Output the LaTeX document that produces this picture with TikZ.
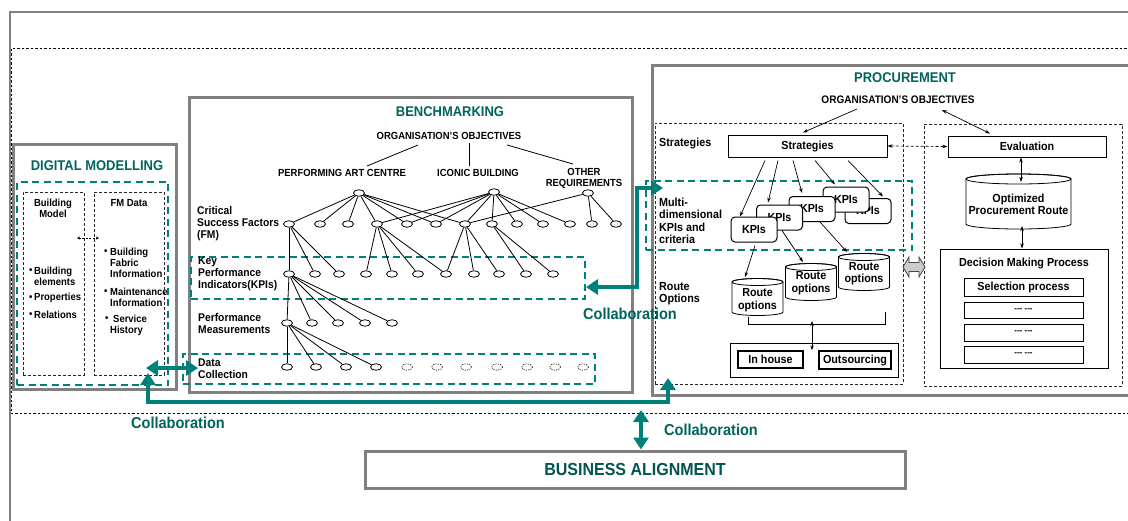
\documentclass[tikz,border=0pt]{standalone}
\usepackage{fontspec}
\setmainfont{Liberation Sans}[FakeStretch=0.92]
\usetikzlibrary{shapes.geometric,arrows.meta,calc}
\definecolor{tealA}{RGB}{0,128,122}
\definecolor{tealT}{RGB}{0,100,94}
\definecolor{frameG}{RGB}{128,128,128}
\newcommand\mycyl[5]{%
  \filldraw[fill=white,line width=0.8pt] (#1-#4,#2) -- (#1-#4,#3) arc[start angle=180,end angle=0,x radius=#4,y radius=#5] -- (#1+#4,#2) arc[start angle=0,end angle=-180,x radius=#4,y radius=#5] -- cycle;
  \draw[line width=0.8pt] (#1,#2) ellipse [x radius=#4,y radius=#5];}
\tikzset{
 frame/.style={draw=frameG, line width=3pt, inner sep=0pt},
 tbox/.style={draw=tealA, line width=2.2pt, dash pattern=on 7pt off 4.5pt, inner sep=0pt},
 bbox/.style={draw=black!85, line width=0.8pt, dash pattern=on 3pt off 2pt, inner sep=0pt},
 ell/.style={ellipse, draw, line width=0.8pt, minimum width=11pt, minimum height=6.5pt, inner sep=0pt},
 dell/.style={ellipse, draw, line width=0.6pt, dash pattern=on 1.2pt off 1.2pt, minimum width=11pt, minimum height=6.5pt, inner sep=0pt},
 tl/.style={line width=0.8pt},
 f95/.style={font=\bfseries\fontsize{10.3}{11}\selectfont},
 f103/.style={font=\bfseries\fontsize{11.2}{12}\selectfont},
 f108/.style={font=\bfseries\fontsize{11.7}{12.4}\selectfont},
 ttl/.style={font=\bfseries\fontsize{14.1}{15}\selectfont, text=tealT, inner sep=0pt},
 colt/.style={font=\bfseries\fontsize{15.8}{17}\selectfont, text=tealT, inner sep=0pt},
 collab/.style={draw=tealA, line width=4.5pt, arrows={Triangle[length=12pt,width=15pt]-Triangle[length=12pt,width=15pt]}},
 tarr/.style={line width=0.7pt, arrows={-Stealth[length=5pt,width=3.5pt]}},
 tarrb/.style={line width=0.7pt, arrows={Stealth[length=5pt,width=3.5pt]-Stealth[length=5pt,width=3.5pt]}},
 rbox/.style={draw, line width=1pt, inner sep=0pt},
 kpi/.style={draw, fill=white, rounded corners=4pt, line width=1pt, minimum width=46pt, minimum height=25pt, f108, inner sep=0pt},
 lab/.style={inner sep=0pt, align=left, anchor=west},
}
\begin{document}
\begin{tikzpicture}[x=1pt,y=-1pt]
\useasboundingbox (0,0) rectangle (1128,520);
\clip (0,0) rectangle (1128,520);
\fill[white] (0,0) rectangle (1128,520);
% outer frame and dashed region
\draw[draw=frameG, line width=2.5pt] (1140,12) -- (10,12) -- (10,530);
\draw[line width=0.8pt, dash pattern=on 2.5pt off 2pt] (1140,48) -- (11,48) -- (11,413) -- (1140,413);

% ================= DIGITAL MODELLING =================
\node[frame, minimum width=163pt, minimum height=245pt, anchor=north west] (dm) at (12,143) {};
\node[ttl] (dmt) at (97,166) {DIGITAL MODELLING};
\node[tbox, minimum width=151pt, minimum height=203pt, anchor=north west] (dmtb) at (16,181) {};
\node[bbox, minimum width=61pt, minimum height=183pt, anchor=north west] (bmod) at (23,192) {};
\node[bbox, minimum width=70pt, minimum height=183pt, anchor=north west] (fmd) at (94,192) {};
\node[f95, align=center, inner sep=0pt] (bmt) at (53,208) {Building\\Model};
\node[f95, inner sep=0pt] (fmt) at (129,203) {FM Data};
\coordinate (dmA) at (77,238); \coordinate (dmB) at (99,238);
\draw[line width=0.6pt, dash pattern=on 2pt off 1.5pt, arrows={Stealth[length=3pt,width=3pt]-Stealth[length=3pt,width=3pt]}] (dmA) -- (dmB);
\node[f95, lab] (bu1) at (29,271) {•};
\node[f95, lab] (be) at (34,276) {Building\\elements};
\node[f95, lab] (bu2) at (29,298) {•};
\node[f95, lab] (bp) at (34,298) {Properties};
\node[f95, lab] (bu3) at (29,315) {•};
\node[f95, lab] (br) at (34,315) {Relations};
\node[f95, lab] (bu4) at (104,252) {•};
\node[f95, lab] (fb) at (110,263) {Building\\Fabric\\Information};
\node[f95, lab] (bu5) at (104,292) {•};
\node[f95, lab] (fm) at (110,297.5) {Maintenance\\Information};
\node[f95, lab] (bu6) at (105,319) {•};
\node[f95, lab] (fs) at (110,325) {\hspace{3pt}Service\\History};

% ================= BENCHMARKING =================
\node[frame, minimum width=443pt, minimum height=295pt, anchor=north west] (bm) at (188,96) {};
\node[ttl] (bmtt) at (450,112) {BENCHMARKING};
\node[f95, inner sep=0pt] (bo) at (449,136) {ORGANISATION'S OBJECTIVES};
\node[f95, inner sep=0pt] (pac) at (342,173) {PERFORMING ART CENTRE};
\node[f95, inner sep=0pt] (ico) at (478,173) {ICONIC BUILDING};
\node[f95, inner sep=0pt, align=center] (oth) at (584,178) {OTHER\\REQUIREMENTS};
\coordinate (bo1) at (418,145); \coordinate (pa1) at (367,166);
\coordinate (bo2) at (469,143); \coordinate (ic1) at (469,166);
\coordinate (bo3) at (507,145); \coordinate (ot1) at (573,164);
\draw[tl] (bo1) -- (pa1); \draw[tl] (bo2) -- (ic1); \draw[tl] (bo3) -- (ot1);
\node[tbox, minimum width=394pt, minimum height=42pt, anchor=north west] (kpitb) at (190,256) {};
\node[tbox, minimum width=412pt, minimum height=30pt, anchor=north west] (dctb) at (182,353) {};
\node[f103, lab] (csfl) at (197,224) {Critical\\Success Factors\\(FM)};
\node[f103, lab] (kpil) at (198,274) {Key\\Performance\\Indicators(KPIs)};
\node[f103, lab] (pml) at (198,323) {Performance\\Measurements};
\node[f103, lab] (dcl) at (198,369) {Data\\Collection};
\node[ell] (pE) at (359,193) {};
\node[ell] (iE) at (494,192) {};
\node[ell] (oE) at (588,193) {};
\foreach \x [count=\i] in {289,320,348,377,407,436,465,492,517,543,570,592,616} \node[ell] (c\i) at (\x,224) {};
\foreach \x [count=\i] in {289,315,339,366,392,418,446,474,499,526,553} \node[ell] (k\i) at (\x,274) {};
\foreach \x [count=\i] in {287,312,338,365,392} \node[ell] (p\i) at (\x,323) {};
\foreach \x [count=\i] in {287,316,346,376} \node[ell] (d\i) at (\x,367) {};
\foreach \x [count=\i] in {407,437,466,497,527,555,583} \node[dell] (e\i) at (\x,367) {};
\foreach \j in {1,...,7} \draw[tl] (pE) -- (c\j);
\foreach \j in {4,...,11} \draw[tl] (iE) -- (c\j);
\foreach \j in {7,12,13} \draw[tl] (oE) -- (c\j);
\foreach \j in {1,2,3} \draw[tl] (c1) -- (k\j);
\foreach \j in {4,5,6,7} \draw[tl] (c4) -- (k\j);
\foreach \j in {7,8,9} \draw[tl] (c7) -- (k\j);
\foreach \j in {10,11} \draw[tl] (c8) -- (k\j);
\foreach \j in {1,...,5} \draw[tl] (k1) -- (p\j);
\foreach \j in {1,...,4} \draw[tl] (p1) -- (d\j);

% ================= PROCUREMENT =================
\node[frame, minimum width=489pt, minimum height=330pt, anchor=north west] (pr) at (651,64) {};
\node[ttl] (prt) at (905,78) {PROCUREMENT};
\node[font=\bfseries\fontsize{10.9}{12}\selectfont, inner sep=0pt] (po) at (898,100) {ORGANISATION'S OBJECTIVES};
\node[bbox, minimum width=248pt, minimum height=261pt, anchor=north west] (sdash) at (655,123) {};
\node[bbox, minimum width=198pt, minimum height=262pt, anchor=north west] (edash) at (924,124) {};
\node[tbox, minimum width=266pt, minimum height=69pt, anchor=north west] (mdt) at (645,180) {};
\node[rbox, f108, minimum width=159pt, minimum height=22pt] (strat) at (807.5,146) {Strategies};
\node[f108, lab] (stl) at (659,143) {Strategies};
\node[f108, lab] (mdl) at (659,221) {Multi-\\dimensional\\KPIs and\\criteria};
\node[f108, lab] (rol) at (659,293.5) {Route\\Options};
\node[kpi] (kE) at (868,211) {KPIs};
\node[kpi] (kD) at (846,199.5) {KPIs};
\node[kpi] (kC) at (812,209) {KPIs};
\node[kpi] (kB) at (779.5,217.5) {KPIs};
\node[kpi] (kA) at (754,229.5) {KPIs};
\draw[tarr] ([xshift=-42.5pt,yshift=-3pt]strat.south) -- ([xshift=-14pt]kA.north);
\draw[tarr] ([xshift=-29.5pt,yshift=-3pt]strat.south) -- ([xshift=-11.5pt,yshift=2pt]kB.north);
\draw[tarr] ([xshift=-14.5pt,yshift=-3pt]strat.south) -- ([xshift=-10pt,yshift=3pt]kC.north);
\draw[tarr] ([xshift=7.5pt,yshift=-3pt]strat.south) -- ([xshift=-11pt,yshift=2pt]kD.north);
\draw[tarr] ([xshift=40.5pt,yshift=-3pt]strat.south) -- ([xshift=15pt,yshift=1.5pt]kE.north);
% route option cylinders
\mycyl{757.5}{282}{312}{25.5}{3.5}
\mycyl{811}{267}{297}{25.5}{3.5}
\mycyl{864}{257}{287}{25.5}{3.5}
\node[f108, align=center, inner sep=0pt] (cy1) at (757.5,300) {Route\\options};
\node[f108, align=center, inner sep=0pt] (cy2) at (811,283) {Route\\options};
\node[f108, align=center, inner sep=0pt] (cy3) at (864,273.5) {Route\\options};
\draw[tarr] ([xshift=1pt,yshift=-3pt]kA.south) -- ($(cy1)+(-12.5,-23)$);
\draw[tarr] ([xshift=2.5pt]kB.south) -- ($(cy2)+(-8,-21)$);
\draw[tarr] ([xshift=8pt]kC.south) -- ($(cy3)+(-17,-21.5)$);
\draw[line width=0.8pt] (748,317) -- (748,324) -- (885,324) -- (885,312);
\node[draw, line width=1pt, minimum width=168pt, minimum height=34pt, inner sep=0pt] (ioc) at (814,360) {};
\node[rbox, line width=1.3pt, f108, minimum width=65pt, minimum height=17pt] (inh) at (770.5,359.5) {In house};
\node[rbox, line width=1.3pt, f108, minimum width=72pt, minimum height=18pt] (outs) at (855,360) {Outsourcing};
\coordinate (brk) at (812,321);
\draw[tarrb] (brk) -- (brk |- inh.north);
% right column
\node[rbox, f108, minimum width=158pt, minimum height=21pt] (evl) at (1027,146.5) {Evaluation};
\mycyl{1018.5}{179}{224}{52.5}{5}
\node[f108, align=center, inner sep=0pt] (opr) at (1018.5,204.5) {Optimized\\Procurement Route};
\node[rbox, minimum width=168pt, minimum height=119pt] (dmp) at (1024,308.5) {};
\node[f108, inner sep=0pt] (dmpt) at (1024,263) {Decision Making Process};
\node[rbox, f108, minimum width=119pt, minimum height=18pt] (sel) at (1023.5,287) {Selection process};
\node[rbox, font=\bfseries\fontsize{8.7}{9}\selectfont, minimum width=119pt, minimum height=16pt] (s1) at (1023.5,310) {-{}-{}- -{}-{}-};
\node[rbox, font=\bfseries\fontsize{8.7}{9}\selectfont, minimum width=119pt, minimum height=17pt] (s2) at (1023.5,332.5) {-{}-{}- -{}-{}-};
\node[rbox, font=\bfseries\fontsize{8.7}{9}\selectfont, minimum width=119pt, minimum height=17pt] (s3) at (1023.5,354.5) {-{}-{}- -{}-{}-};
\coordinate (poL) at (857,109); \coordinate (poR) at (942,110);
\draw[tarr] (poL) -- ([xshift=-4.5pt,yshift=2pt]strat.north);
\draw[tarrb] (poR) -- ([xshift=-37pt,yshift=2pt]evl.north);
\draw[tarrb, dash pattern=on 3pt off 2pt] (strat.east) -- (evl.west);
\coordinate (oprT) at (1021,182); \coordinate (oprB) at (1022,226);
\draw[tarrb] ([xshift=-6pt]evl.south) -- (oprT);
\draw[tarrb] (oprB) -- (oprB |- dmp.north);
% grey double block arrow
\filldraw[fill=gray!40, draw=gray!55!black, line width=0.8pt] (903,267) -- (909,257) -- (909,262.5) -- (919,262.5) -- (919,257) -- (925,267) -- (919,277) -- (919,271.5) -- (909,271.5) -- (909,277) -- cycle;

% ================= BUSINESS ALIGNMENT =================
\node[frame, minimum width=540pt, minimum height=37pt, font=\bfseries\fontsize{17.4}{18}\selectfont, text=tealT!85!black] (ba) at (635,469.5) {BUSINESS ALIGNMENT};

% ================= collaboration arrows =================
\coordinate (cm1) at (663,188); \coordinate (cm2) at (586,287);
\draw[collab] (cm1) -- (637,188) -- (637,287) -- (cm2);
\coordinate (cl1) at (148,373); \coordinate (cl2) at (668,378);
\draw[collab] (cl1) -- (148,402) -- (668,402) -- (cl2);
\coordinate (ch1) at (146,368); \coordinate (ch2) at (198,368);
\draw[collab] (ch1) -- (ch2);
\coordinate (cb1) at (641,410);
\draw[collab] (cb1) -- (cb1 |- ba.north);
\node[colt] (cola) at (630,314) {Collaboration};
\node[colt] (colb) at (178,423) {Collaboration};
\node[colt] (colc) at (711,430) {Collaboration};
\end{tikzpicture}
\end{document}
